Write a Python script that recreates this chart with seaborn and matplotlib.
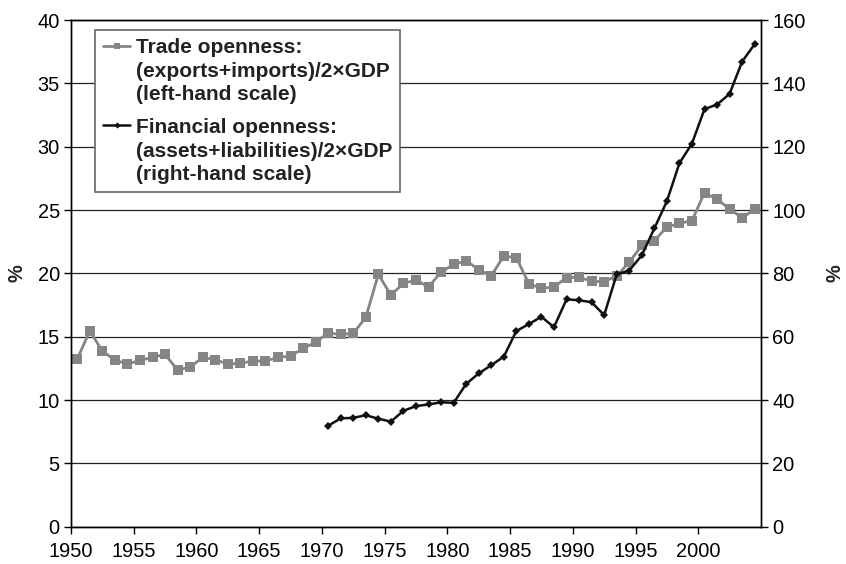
import seaborn as sns
import matplotlib.pyplot as plt
import pandas as pd

# data
years = list(range(1950, 2005))
trade = [13.24, 15.45, 13.87, 13.16, 12.84, 13.13, 13.37, 13.60, 12.37, 12.60,
         13.37, 13.18, 12.84, 12.90, 13.08, 13.08, 13.37, 13.47, 14.07, 14.57,
         15.29, 15.18, 15.26, 16.53, 19.92, 18.29, 19.21, 19.47, 18.94, 20.10,
         20.71, 21.00, 20.29, 19.81, 21.37, 21.23, 19.18, 18.82, 18.92, 19.67,
         19.69, 19.38, 19.34, 19.81, 20.87, 22.21, 22.58, 23.66, 23.95, 24.16,
         26.37, 25.84, 25.10, 24.37, 25.08]
fin_years = list(range(1970, 2005))
financial = [31.9, 34.2, 34.4, 35.2, 34.1, 33.2, 36.6, 38.1, 38.6, 39.3,
             39.1, 45.1, 48.4, 51.0, 53.7, 61.8, 64.0, 66.3, 63.0, 71.8,
             71.5, 70.9, 66.8, 79.7, 80.9, 85.7, 94.2, 102.8, 114.8, 121.0,
             131.9, 133.3, 136.7, 146.9, 152.4]
tick_years = [1950, 1955, 1960, 1965, 1970, 1975, 1980, 1985, 1990, 1995, 2000]

trade_label = 'Trade openness:\n(exports+imports)/2\u00d7GDP\n(left-hand scale)'
fin_label = 'Financial openness:\n(assets+liabilities)/2\u00d7GDP\n(right-hand scale)'

df_trade = pd.DataFrame({'year': years, 'value': trade})
df_fin = pd.DataFrame({'year': fin_years, 'value': financial})

sns.set_style('white')
plt.rcParams['font.family'] = ['Liberation Sans', 'DejaVu Sans']

fig = plt.figure(figsize=(8.46, 5.64), dpi=100)
ax = fig.add_axes([0.0839, 0.0661, 0.8156, 0.8984])
ax2 = ax.twinx()

sns.lineplot(data=df_trade, x='year', y='value', ax=ax, color='#858585',
             linewidth=2, marker='s', markersize=7, markeredgewidth=0,
             label=trade_label, legend=False)
sns.lineplot(data=df_fin, x='year', y='value', ax=ax2, color='#111111',
             linewidth=1.8, marker='D', markersize=4.5, markeredgewidth=0,
             label=fin_label, legend=False)

ax.set_xlim(1949.5, 2004.5)
ax.set_ylim(0, 40)
ax2.set_ylim(0, 160)
ax.set_yticks(range(0, 45, 5))
ax2.set_yticks(range(0, 180, 20))
# ticks sit on category boundaries, labels centred on them
ax.set_xticks([y - 0.5 for y in tick_years])
ax.set_xticklabels([str(y) for y in tick_years])

ax.yaxis.grid(True, color='#222222', linewidth=0.9)
ax.xaxis.grid(False)
ax.set_axisbelow(True)

for a in (ax, ax2):
    for s in a.spines.values():
        s.set_color('black')
        s.set_linewidth(1.0)
    a.tick_params(labelsize=14.4, colors='black', length=5, width=1, direction='out', pad=3)
ax.tick_params(axis='x', bottom=True, pad=6)
ax.tick_params(axis='y', left=True)
ax2.tick_params(axis='y', right=True)

ax.set_xlabel('')
ax.set_ylabel('%', fontsize=14.4, fontweight='bold', labelpad=8)
ax2.set_ylabel('%', fontsize=14.4, fontweight='bold', labelpad=14)

h1, l1 = ax.get_legend_handles_labels()
h2, l2 = ax2.get_legend_handles_labels()
leg = ax2.legend(h1 + h2, l1 + l2, loc='upper left', bbox_to_anchor=(0.0348, 0.98),
                 borderaxespad=0, frameon=True, fancybox=False, framealpha=1,
                 edgecolor='#666666', prop={'family': 'Liberation Sans', 'weight': 'bold', 'size': 15},
                 handlelength=1.3, handletextpad=0.25, borderpad=0.4, labelspacing=0.65,
                 markerscale=0.7)
leg.get_frame().set_linewidth(1.2)
for t in leg.get_texts():
    t.set_linespacing(1.3)
    t.set_color('#222222')
# put each legend sample next to the first line of its label
for col in leg._legend_handle_box.get_children():
    for row in col.get_children():
        row.align = 'top'

fig.savefig('out.png', dpi=100)
